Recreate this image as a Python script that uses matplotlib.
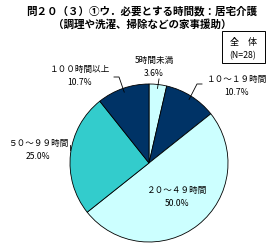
import numpy as np
import matplotlib.pyplot as plt

plt.rcParams['font.family'] = ['Noto Sans CJK JP', 'DejaVu Sans']

# --- dados ---
categorias = ['5時間未満', '１０～１９時間', '２０～４９時間', '５０～９９時間', '１００時間以上']
valores = [3.6, 10.7, 50.0, 25.0, 10.7]
cores = ['#CCFFFF', '#003366', '#CCFFFF', '#33CCCC', '#003366']
titulo = '問２０（３）①ウ．必要とする時間数：居宅介護\n（調理や洗濯、掃除などの家事援助）'
legenda = '全　体\n(N=28)'

W, H = 271, 251
fig = plt.figure(figsize=(W / 100, H / 100), dpi=100)

# pizza: centro (149,164) px, raio 79 px
cx, cy, r = 149, 164, 79
ax = fig.add_axes([(cx - r) / W, (H - cy - r) / H, 2 * r / W, 2 * r / H])
wedges, _ = ax.pie(valores, colors=cores, startangle=90, counterclock=False,
                   wedgeprops=dict(edgecolor='black', linewidth=0.6))
ax.set_xlim(-1, 1)
ax.set_ylim(-1, 1)
ax.set_aspect('equal')
ax.axis('off')

fig.text(142 / W, 1 - 18 / H, titulo, ha='center', va='center', fontsize=7.6,
         fontweight='bold', linespacing=1.2)

# caixa "全体"
caixa = plt.Rectangle((222 / W, 1 - 64 / H), 43 / W, 32 / H, transform=fig.transFigure,
                      fc='white', ec='black', lw=0.7)
fig.add_artist(caixa)
fig.text(243 / W, 1 - 42 / H, '全　体', ha='center', va='center', fontsize=6.5)
fig.text(243 / W, 1 - 56 / H, '(N=28)', ha='center', va='center', fontsize=6.3)

# posições dos rótulos (px)
pos_rot = [(154, 67), (237, 86), (177, 197), (38, 150), (80, 76)]
for cat, val, (px, py) in zip(categorias, valores, pos_rot):
    fig.text(px / W, 1 - py / H, f'{cat}\n{val:.1f}%', ha='center', va='center',
             fontsize=6.2, linespacing=1.45)

# linhas de chamada
def ponto(w, fr=1.0):
    ang = np.deg2rad((w.theta1 + w.theta2) / 2)
    return fr * np.cos(ang), fr * np.sin(ang)

def px2data(px, py):
    return (px - cx) / r, (cy - py) / r

chamadas = {0: [(159, 80)], 1: [(197, 85), (202, 85)], 4: [(119, 78), (114, 78)]}
for i, pts in chamadas.items():
    x0, y0 = ponto(wedges[i], 0.95)
    xs = [x0] + [px2data(*p)[0] for p in pts]
    ys = [y0] + [px2data(*p)[1] for p in pts]
    ax.plot(xs, ys, color='black', lw=0.6, clip_on=False)

x0, y0 = px2data(70, 146)
ax.plot([x0, x0], [y0, y0 - 0.06], color='black', lw=0.6, clip_on=False)

fig.savefig('out.png', dpi=100)
